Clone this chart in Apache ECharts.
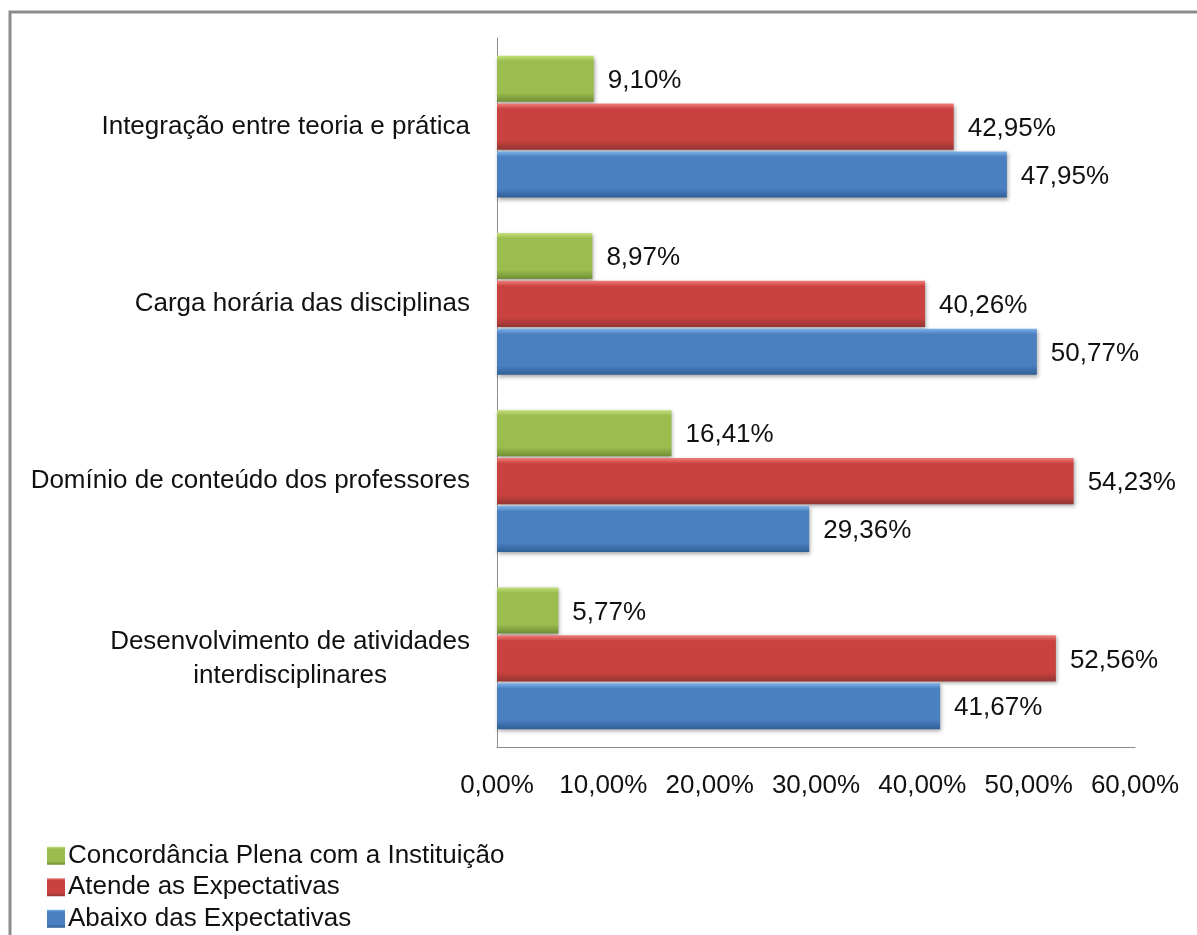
<!DOCTYPE html>
<html>
<head>
<meta charset="utf-8">
<script src="https://cdn.jsdelivr.net/npm/echarts@6/dist/echarts.min.js"></script>
<style>
  html, body { margin: 0; padding: 0; background: #fff; }
  #chart { width: 1197px; height: 935px; }
</style>
</head>
<body>
<div id="chart"></div>
<script>
// categories, bottom to top (as drawn by the category axis)
var categorias = [
  'Desenvolvimento de atividades interdisciplinares',
  'Domínio de conteúdo dos professores',
  'Carga horária das disciplinas',
  'Integração entre teoria e prática'
];
var concordancia = [5.77, 16.41, 8.97, 9.10];
var atende = [52.56, 54.23, 40.26, 42.95];
var abaixo = [41.67, 29.36, 50.77, 47.95];
var nomes = ['Concordância Plena com a Instituição', 'Atende as Expectativas', 'Abaixo das Expectativas'];

var fonte = '"Liberation Sans", Arial, sans-serif';
var tam = 26;

function pct(v) {
  return v.toFixed(2).replace('.', ',') + '%';
}

function grad(top, mid, bottom) {
  return new echarts.graphic.LinearGradient(0, 0, 0, 1, [
    { offset: 0, color: top },
    { offset: 0.12, color: mid },
    { offset: 0.8, color: mid },
    { offset: 1, color: bottom }
  ]);
}

var cores = [
  grad('#c2e07a', '#9bbd4f', '#6f8f33'),
  grad('#ef7d79', '#c9423f', '#953532'),
  grad('#7fb2ea', '#4a7fc0', '#2f5f96')
];
var coresLegenda = ['#9bbd4f', '#c9423f', '#4a7fc0'];

function serie(i, dados) {
  return {
    name: nomes[i],
    type: 'bar',
    data: dados,
    barGap: '4%',
    barCategoryGap: '20%',
    itemStyle: {
      color: cores[i],
      shadowBlur: 4,
      shadowOffsetY: 2,
      shadowOffsetX: 1,
      shadowColor: 'rgba(0,0,0,0.35)'
    },
    label: {
      show: true,
      position: 'right',
      distance: 14,
      offset: [0, 2],
      fontFamily: fonte,
      fontSize: tam,
      color: '#111',
      formatter: function (p) { return pct(p.value); }
    }
  };
}

var myChart = echarts.init(document.getElementById('chart'));
var option = {
  animation: false,
  textStyle: { fontFamily: fonte },
  color: coresLegenda,
  graphic: [{
    type: 'rect',
    shape: { x: 10, y: 12, width: 1300, height: 1000 },
    style: { fill: 'none', stroke: '#8c8c8c', lineWidth: 3 },
    silent: true
  }],
  grid: { left: 497, right: 62, top: 38, bottom: 188, containLabel: false, outerBoundsMode: 'none' },
  legend: {
    orient: 'vertical',
    left: 42,
    top: 835,
    height: 200,
    itemWidth: 18,
    itemHeight: 18,
    itemGap: 0,
    icon: 'rect',
    data: nomes,
    textStyle: { fontSize: tam, lineHeight: 31.5, color: '#111', fontFamily: fonte, padding: [0, 0, 0, -2] }
  },
  xAxis: {
    type: 'value',
    min: 0,
    max: 60,
    interval: 10,
    axisLine: { show: true, lineStyle: { color: '#8c8c8c', width: 1 } },
    axisTick: { show: false },
    splitLine: { show: false },
    axisLabel: {
      margin: 26,
      fontSize: tam,
      color: '#111',
      fontFamily: fonte,
      formatter: function (v) { return pct(v); }
    }
  },
  yAxis: {
    type: 'category',
    data: categorias,
    axisLine: { show: true, lineStyle: { color: '#8c8c8c', width: 1 } },
    axisTick: { show: false },
    axisLabel: {
      margin: 27,
      fontSize: tam,
      color: '#111',
      fontFamily: fonte,
      formatter: function (v) {
        if (v.indexOf('Desenvolvimento') === 0) {
          return '{a|Desenvolvimento de atividades}\n{c|interdisciplinares}';
        }
        return v;
      },
      rich: {
        a: { fontSize: tam, color: '#111', fontFamily: fonte, lineHeight: 34 },
        c: { fontSize: tam, color: '#111', fontFamily: fonte, lineHeight: 34, align: 'center' }
      }
    }
  },
  series: [
    serie(0, concordancia),
    serie(1, atende),
    serie(2, abaixo)
  ]
};
window.onresize = myChart.resize;
myChart.setOption(option);
</script>
</body>
</html>
